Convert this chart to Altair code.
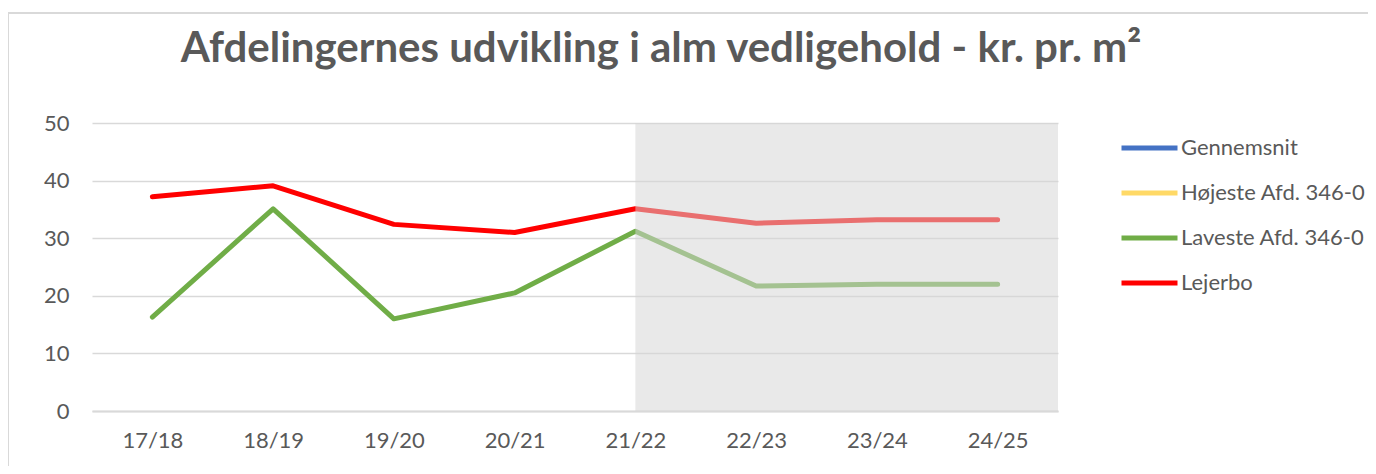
import altair as alt
import pandas as pd

# ---- data ----
years = ["17/18", "18/19", "19/20", "20/21", "21/22", "22/23", "23/24", "24/25"]
lejerbo = [37.2, 39.1, 32.4, 31.0, 35.1, 32.6, 33.2, 33.2]
laveste = [16.3, 35.1, 16.0, 20.5, 31.2, 21.7, 22.0, 22.0]
series_names = ["Gennemsnit", "Højeste Afd. 346-0", "Laveste Afd. 346-0", "Lejerbo"]
series_colors = ["#4472C4", "#FFD966", "#70AD47", "#FF0000"]
forecast_start = "21/22"
title_text = "Afdelingernes udvikling i alm vedligehold - kr. pr. m²"

rows = []
for y, v in zip(years, laveste):
    rows.append({"year": y, "value": v, "series": "Laveste Afd. 346-0"})
for y, v in zip(years, lejerbo):
    rows.append({"year": y, "value": v, "series": "Lejerbo"})
df = pd.DataFrame(rows)

W, H = 966, 288
FONT = "Lato"
TXT = "#595959"
GRID = "#D9D9D9"

x_enc = alt.X(
    "year:N",
    sort=years,
    scale=alt.Scale(type="point", domain=years, padding=0.5),
    axis=alt.Axis(
        title=None, labelAngle=0, ticks=False, domainColor=GRID, domainWidth=2,
        labelFontSize=22, labelColor=TXT, labelFont=FONT, labelPadding=19, grid=False,
    ),
)
y_enc = alt.Y(
    "value:Q",
    scale=alt.Scale(domain=[0, 50]),
    axis=alt.Axis(
        title=None, values=[0, 10, 20, 30, 40, 50], ticks=False, domain=False,
        labelFontSize=22, labelColor=TXT, labelFont=FONT, labelPadding=23,
        gridColor=GRID, gridWidth=1.5,
    ),
)

lines = alt.Chart(df).mark_line(strokeWidth=5, strokeCap="round", strokeJoin="round").encode(
    x=x_enc,
    y=y_enc,
    color=alt.Color(
        "series:N",
        scale=alt.Scale(domain=series_names, range=series_colors),
        legend=alt.Legend(
            title=None, orient="none", legendX=1027, legendY=15,
            symbolType="stroke", symbolSize=3136, symbolStrokeWidth=5,
            clipHeight=20, rowPadding=23, labelOffset=1, padding=0, labelLimit=0,
            labelFontSize=22, labelColor=TXT, labelFont=FONT,
        ),
    ),
)

shade_df = pd.DataFrame({"year": [forecast_start]})
shade = alt.Chart(shade_df).mark_rect(color="#D4D4D4", opacity=0.52).encode(
    x=alt.X("year:N", sort=years, scale=alt.Scale(type="point", domain=years, padding=0.5)),
    x2=alt.value(W),
    y=alt.value(0),
    y2=alt.value(H),
)

border_df = pd.DataFrame({"k": [0]})
border_top = alt.Chart(border_df).mark_rule(color=GRID, strokeWidth=2).encode(
    x=alt.value(-84), x2=alt.value(1300), y=alt.value(-110)
)
border_left = alt.Chart(border_df).mark_rule(color=GRID, strokeWidth=2).encode(
    x=alt.value(-84), y=alt.value(-110), y2=alt.value(360)
)

title_df = pd.DataFrame({"t": [title_text]})
title = alt.Chart(title_df).mark_text(
    fontSize=42, font=FONT, fontWeight="bold", color=TXT,
    align="center", baseline="alphabetic",
).encode(text="t:N", x=alt.value(569), y=alt.value(-61))

chart = alt.layer(lines, shade, border_top, border_left, title).properties(
    width=W,
    height=H,
    autosize="none",
    padding={"left": 84, "top": 115, "right": 310, "bottom": 55},
).configure_view(stroke=None)

chart.save("out.html", embed_options={"renderer": "svg", "actions": False})
